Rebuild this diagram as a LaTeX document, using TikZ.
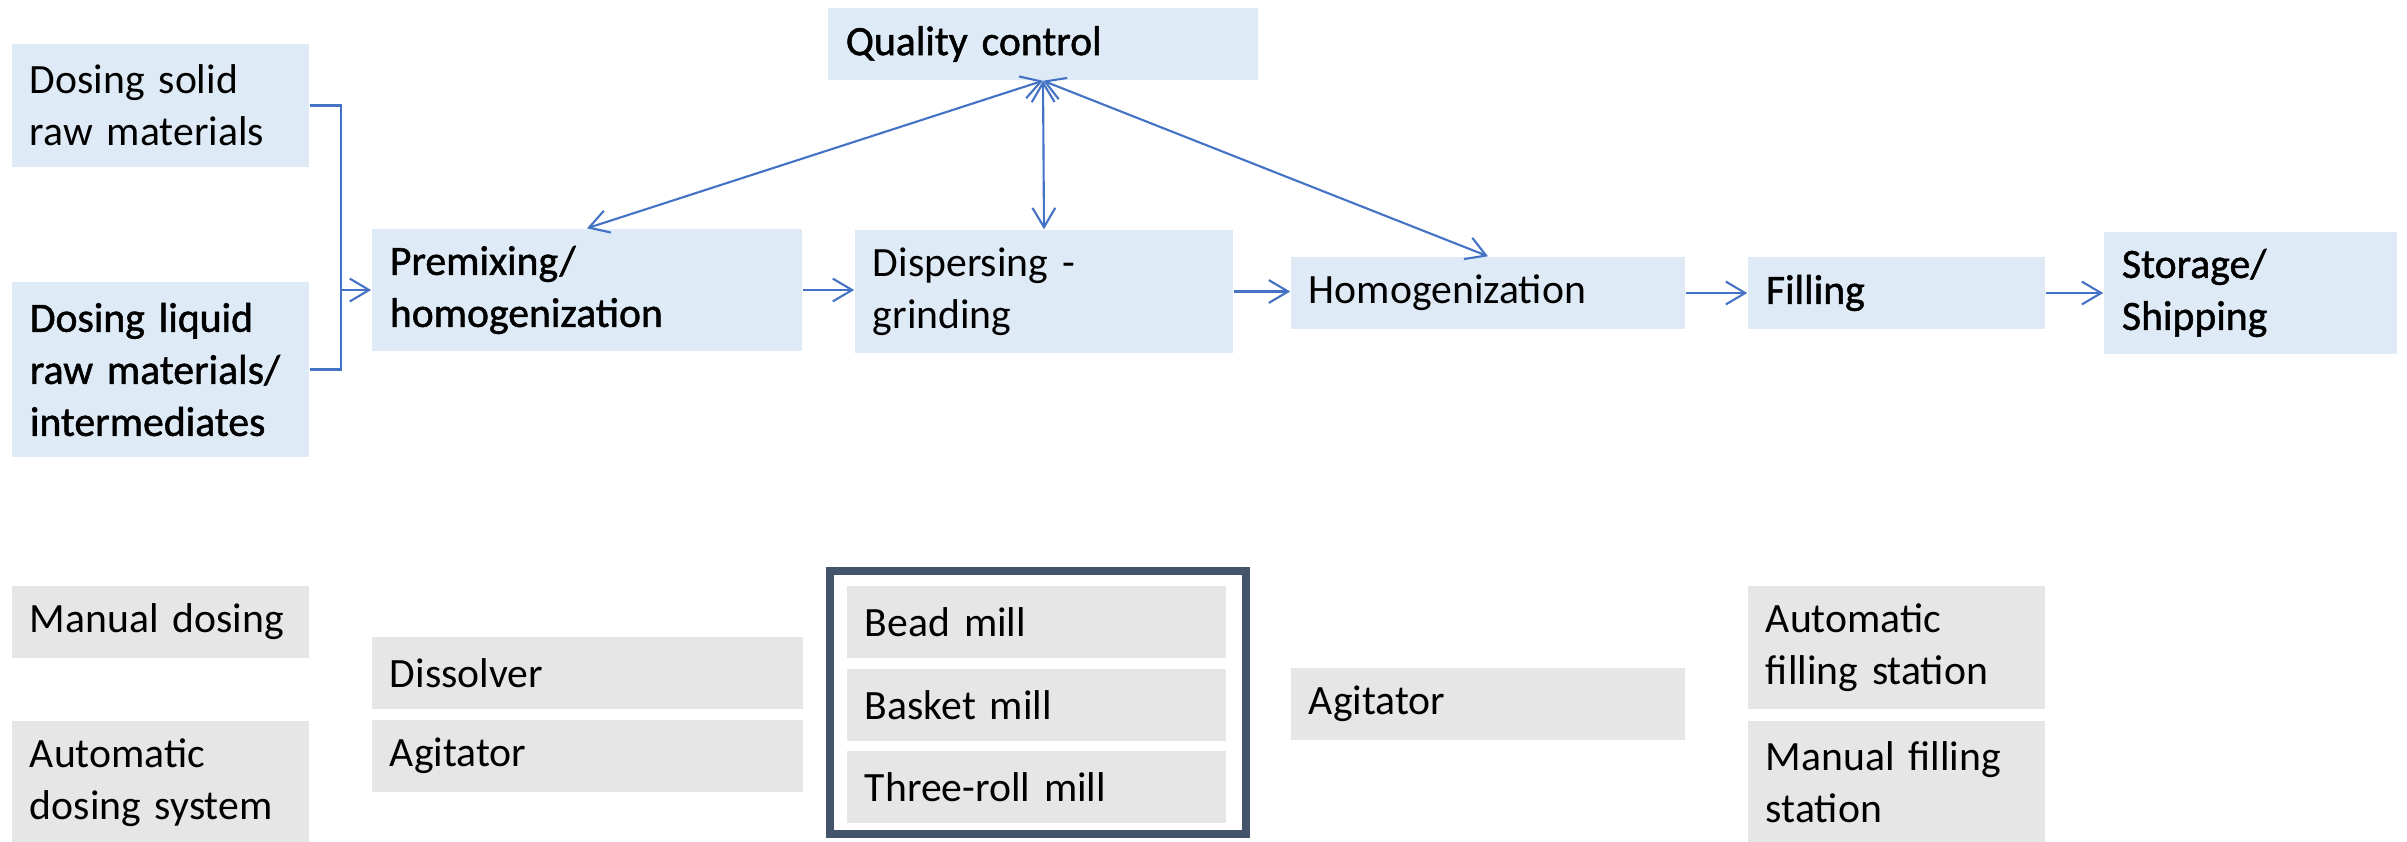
\documentclass[tikz,border=0pt]{standalone}
\usepackage{fontspec}
\setmainfont{Carlito}
\newfontfamily\heavyfont[FakeBold=1.2]{Carlito}
\usetikzlibrary{arrows.meta}
\definecolor{stageblue}{HTML}{DEEBF7}
\definecolor{toolgray}{HTML}{E6E6E6}
\definecolor{flowblue}{HTML}{4472C4}
\definecolor{slate}{HTML}{44546A}
\newcommand\boxsize{\fontsize{11.85}{14.8}\selectfont}
\hyphenpenalty=10000

\tikzset{
  barb/.tip={Straight Barb[length=5.5pt,width=6.5pt]},
  stage/.style={fill=stageblue, inner xsep=0.18cm, inner ysep=0pt, align=left},
  tool/.style={fill=toolgray, inner xsep=0.18cm, inner ysep=0pt, align=left},
  heavy/.style={font=\heavyfont\boxsize},
  flow/.style={flowblue, line width=0.6pt, -barb},
  check/.style={flowblue, line width=0.6pt, barb-barb},
}

\begin{document}
\begin{tikzpicture}[x=0.01cm,y=-0.01cm,font=\boxsize]
  \useasboundingbox (0,0) rectangle (2407,841);
  % process chain
  \node[stage, text width=2.61cm, minimum height=1.23cm] (solid) at (160.5,105.5) {Dosing solid\\raw materials};
  \node[stage, heavy, text width=2.61cm, minimum height=1.75cm] (liquid) at (160.5,369.5) {Dosing liquid\\raw materials/\\intermediates};
  \node[stage, heavy, text width=3.94cm, minimum height=1.22cm] (premix) at (587,290) {Premixing/\\homogenization};
  \node[stage, heavy, text width=3.94cm, minimum height=0.72cm] (qc) at (1043,44) {Quality control};
  \node[stage, text width=3.42cm, minimum height=1.23cm] (disp) at (1044,291.5) {Dispersing -\\grinding};
  \node[stage, text width=3.58cm, minimum height=0.72cm] (homog) at (1488,293) {Homogenization};
  \node[stage, heavy, text width=2.61cm, minimum height=0.72cm] (fill) at (1896.5,293) {Filling};
  \node[stage, heavy, text width=2.57cm, minimum height=1.22cm] (store) at (2250.5,293) {Storage/\\Shipping};
  \coordinate (join) at (341,290);
  \draw[flowblue, line width=0.6pt] (solid.east) -| (join) |- (liquid.east);
  \draw[flow] (join) -- (premix.west);
  \draw[flow] (premix.east) -- (disp.west |- premix.east);
  \draw[flow] (disp.east) -- (homog.west |- disp.east);
  \draw[flow] (homog.east) -- (fill.west);
  \draw[flow] (fill.east) -- (store.west);
  \foreach \t in {premix,disp,homog}
    \draw[check] (qc.south) -- (\t.north);
  % equipment
  \node[tool, text width=2.61cm, minimum height=0.72cm] (mandose) at (160.5,622) {Manual dosing};
  \node[tool, text width=2.61cm, minimum height=1.23cm] (autodose) at (160.5,782.5) {Automatic\\dosing system};
  \node[tool, text width=3.95cm, minimum height=0.72cm] (dissolver) at (587.5,673) {Dissolver};
  \node[tool, text width=3.95cm, minimum height=0.72cm] (agitA) at (587.5,756) {Agitator};
  \foreach \n/\y/\t in {bead/622/Bead mill,basket/705/Basket mill,roll/787/Three-roll mill}
    \node[tool, text width=3.43cm, minimum height=0.72cm] (\n) at (1036.5,\y) {\t};
  \draw[slate, line width=0.08cm] (830,571) rectangle (1246,834);
  \node[tool, text width=3.58cm, minimum height=0.72cm] (agitB) at (1488,704) {Agitator};
  \node[tool, text width=2.61cm, minimum height=1.23cm] (autofill) at (1896.5,647.5) {Automatic\\filling station};
  \node[tool, text width=2.61cm, minimum height=1.23cm] (manfill) at (1896.5,782.5) {Manual filling\\station};
\end{tikzpicture}
\end{document}
